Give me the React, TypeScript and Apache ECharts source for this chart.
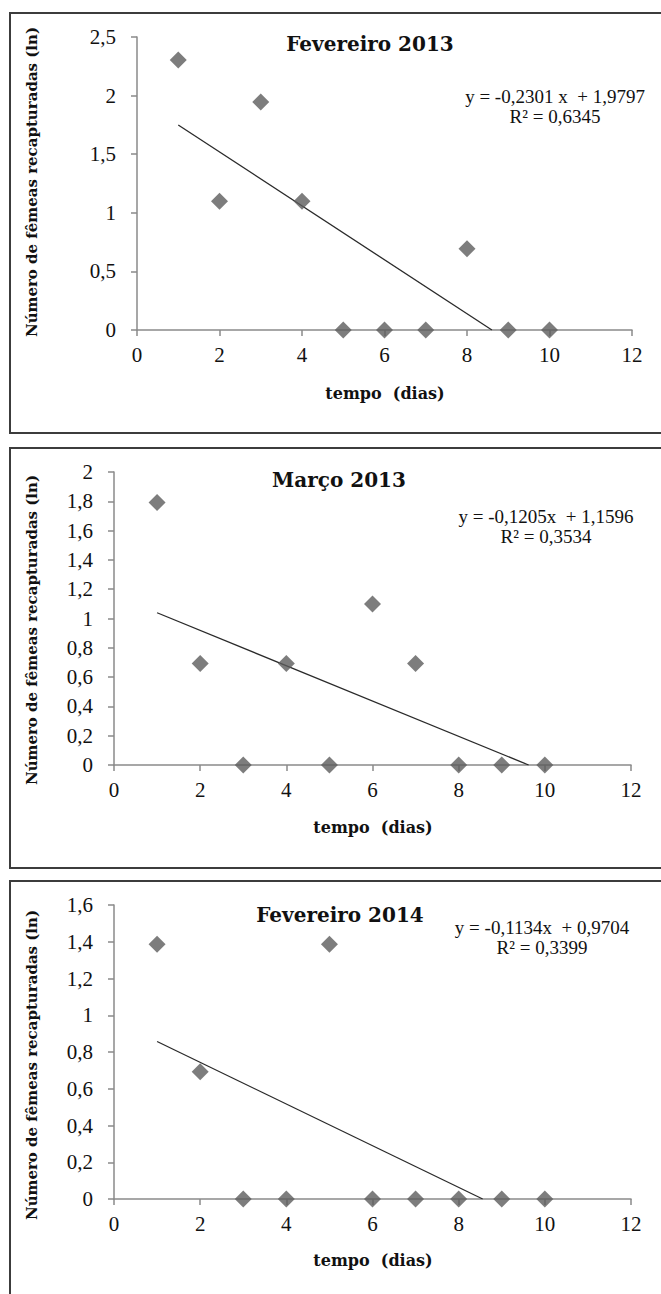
import React, { useEffect, useRef } from "react";
import * as echarts from "echarts";

const days = [1, 2, 3, 4, 5, 6, 7, 8, 9, 10];
const feb2013 = [2.303, 1.099, 1.946, 1.099, 0, 0, 0, 0.693, 0, 0];
const mar2013 = [1.792, 0.693, 0, 0.693, 0, 1.099, 0.693, 0, 0, 0];
const feb2014 = [1.386, 0.693, 0, 0, 1.386, 0, 0, 0, 0, 0];

const titles = ["Fevereiro 2013", "Março 2013", "Fevereiro 2014"];
const slopes = [-0.2301, -0.1205, -0.1134];
const intercepts = [1.9797, 1.1596, 0.9704];
const equations = ["y = -0,2301 x  + 1,9797", "y = -0,1205x  + 1,1596", "y = -0,1134x  + 0,9704"];
const r2Labels = ["R² = 0,6345", "R² = 0,3534", "R² = 0,3399"];
const yMax = [2.5, 2, 1.6];
const yStep = [0.5, 0.2, 0.2];
const xTicks = [0, 2, 4, 6, 8, 10, 12];

const yTitle = "Número de fêmeas recapturadas (ln)";
const xTitle = "tempo  (dias)";

const SERIES = [feb2013, mar2013, feb2014];

// layout (pixels)
const grids = [
  { left: 137, top: 37, width: 495, height: 293 },
  { left: 114, top: 472, width: 517, height: 293 },
  { left: 114, top: 905, width: 517, height: 294 },
];
const panels = [
  { y: 13, h: 420 },
  { y: 448, h: 420 },
  { y: 881, h: 430 },
];
const titlePos = [
  [370, 44],
  [339, 480],
  [340, 915],
];
const eqPos = [
  [555, 96],
  [546, 516],
  [542, 927],
];
const yTitleY = [182, 630, 1065];
const xTitlePos = [
  [385, 393],
  [373, 827],
  [373, 1260],
];

const AXIS_COLOR = "#8a8a8a";
const SERIF = "'DejaVu Serif', 'Liberation Serif', serif";
const TIMES = "'Liberation Serif', 'Times New Roman', serif";

export default function App() {
  const ref = useRef<HTMLDivElement>(null);
  useEffect(() => {
    if (!ref.current) return;
    const chart = echarts.init(ref.current, undefined, { renderer: "svg" });

    const fmt = (v: number) => String(Math.round(v * 10) / 10).replace(".", ",");

    const xAxis = grids.map((_, i) => ({
      type: "value",
      gridIndex: i,
      min: 0,
      max: 12,
      interval: 2,
      axisLine: { show: true, onZero: false, lineStyle: { color: AXIS_COLOR, width: 1.5 } },
      axisTick: { show: true, length: 6, lineStyle: { color: AXIS_COLOR, width: 1.5 } },
      axisLabel: {
        color: "#111",
        fontFamily: TIMES,
        fontSize: 21,
        margin: 14,
        formatter: (v: number) => (xTicks.includes(v) ? String(v) : ""),
      },
      splitLine: { show: false },
    }));

    const yAxis = grids.map((_, i) => ({
      type: "value",
      gridIndex: i,
      min: 0,
      max: yMax[i],
      interval: yStep[i],
      axisLine: { show: true, lineStyle: { color: AXIS_COLOR, width: 1.5 } },
      axisTick: { show: true, length: 6, lineStyle: { color: AXIS_COLOR, width: 1.5 } },
      axisLabel: {
        color: "#111",
        fontFamily: TIMES,
        fontSize: 21,
        margin: 21,
        formatter: fmt,
      },
      splitLine: { show: false },
    }));

    const series: any[] = [];
    SERIES.forEach((vals, i) => {
      const a = slopes[i];
      const b = intercepts[i];
      const x0 = days[0];
      const xEnd = Math.min(days[days.length - 1], -b / a);
      series.push({
        type: "line",
        xAxisIndex: i,
        yAxisIndex: i,
        data: [
          [x0, a * x0 + b],
          [xEnd, a * xEnd + b],
        ],
        showSymbol: false,
        symbol: "none",
        lineStyle: { color: "#2a2a2a", width: 1.3 },
        z: 3,
        silent: true,
      });
      series.push({
        type: "scatter",
        xAxisIndex: i,
        yAxisIndex: i,
        data: days.map((d, k) => [d, vals[k]]),
        symbol: "diamond",
        symbolSize: [17, 17],
        itemStyle: { color: "#5c5c5c" },
        z: 4,
      });
    });

    const graphic: any[] = [];
    panels.forEach((p) => {
      graphic.push({
        type: "rect",
        shape: { x: 10, y: p.y, width: 670, height: p.h },
        style: { fill: "none", stroke: "#3c3c3c", lineWidth: 2 },
        z: 0,
      });
    });
    titles.forEach((t, i) => {
      graphic.push({
        type: "text",
        x: titlePos[i][0],
        y: titlePos[i][1],
        style: {
          text: t,
          fontFamily: SERIF,
          fontWeight: "bold",
          fontSize: 20,
          fill: "#111",
          textAlign: "center",
          textVerticalAlign: "middle",
        },
        z: 10,
      });
      graphic.push({
        type: "text",
        x: eqPos[i][0],
        y: eqPos[i][1],
        style: {
          text: equations[i],
          fontFamily: TIMES,
          fontSize: 19,
          fill: "#111",
          textAlign: "center",
          textVerticalAlign: "middle",
        },
        z: 10,
      });
      graphic.push({
        type: "text",
        x: eqPos[i][0],
        y: eqPos[i][1] + 20,
        style: {
          text: r2Labels[i],
          fontFamily: TIMES,
          fontSize: 19,
          fill: "#111",
          textAlign: "center",
          textVerticalAlign: "middle",
        },
        z: 10,
      });
      graphic.push({
        type: "text",
        x: 32,
        y: yTitleY[i],
        rotation: Math.PI / 2,
        style: {
          text: yTitle,
          fontFamily: SERIF,
          fontWeight: "bold",
          fontSize: 15,
          fill: "#111",
          textAlign: "center",
          textVerticalAlign: "middle",
        },
        z: 10,
      });
      graphic.push({
        type: "text",
        x: xTitlePos[i][0],
        y: xTitlePos[i][1],
        style: {
          text: xTitle,
          fontFamily: SERIF,
          fontWeight: "bold",
          fontSize: 16,
          fill: "#111",
          textAlign: "center",
          textVerticalAlign: "middle",
        },
        z: 10,
      });
    });

    chart.setOption({
      animation: false,
      backgroundColor: "#ffffff",
      grid: grids.map((g) => ({ ...g, containLabel: false })),
      xAxis,
      yAxis,
      series,
      graphic,
    });
    return () => chart.dispose();
  }, []);

  return (
    <div
      ref={ref}
      style={{ position: "absolute", left: 0, top: 0, width: 661, height: 1294, background: "#fff" }}
    />
  );
}
